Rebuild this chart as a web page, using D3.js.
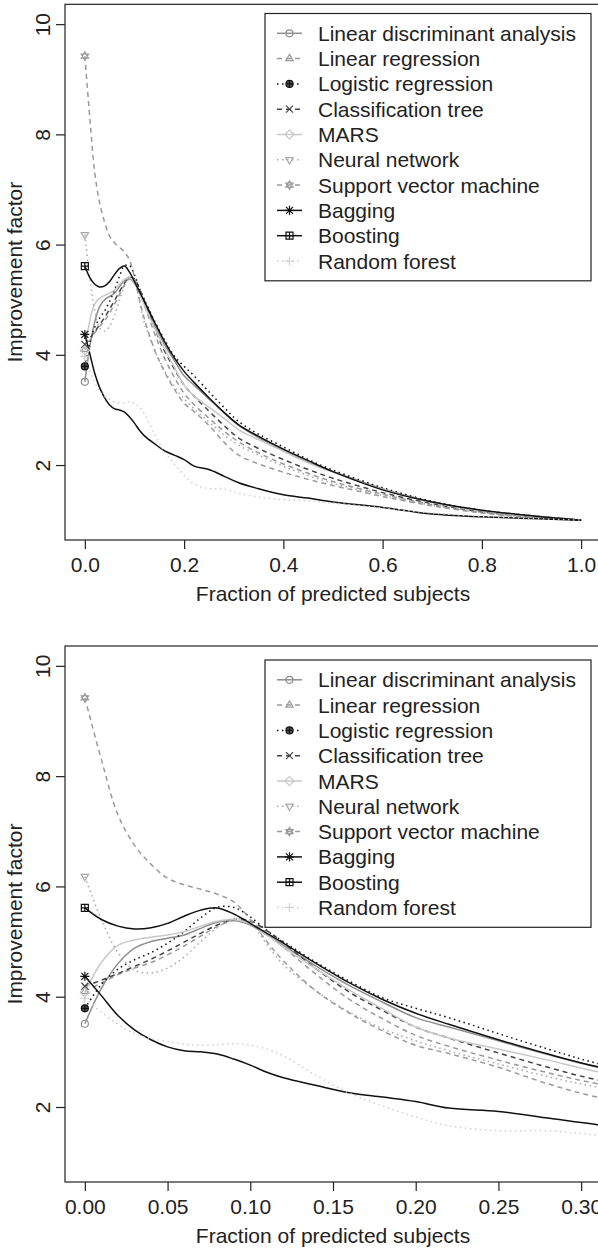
<!DOCTYPE html>
<html>
<head>
<meta charset="utf-8">
<script src="https://cdn.jsdelivr.net/npm/d3@7"></script>
<style>
body { margin: 0; background: #fff; }
svg text { font-family: "Liberation Sans", Arial, sans-serif; fill: #222; }
</style>
</head>
<body>
<svg id="chart" width="598" height="1248"></svg>
<script>
// fraction of predicted subjects (shared x grid)
const fractions = [0, 0.01, 0.02, 0.03, 0.04, 0.05, 0.06, 0.07, 0.08, 0.09, 0.10, 0.11, 0.12, 0.14, 0.16, 0.18, 0.20, 0.22, 0.25, 0.28, 0.31, 0.35, 0.40, 0.45, 0.50, 0.60, 0.70, 0.80, 0.90, 1.00];

// improvement factor per method
const ldaVals      = [3.51, 4.15, 4.60, 4.88, 5.00, 5.06, 5.12, 5.24, 5.35, 5.38, 5.30, 5.12, 4.93, 4.55, 4.20, 3.90, 3.62, 3.45, 3.20, 2.95, 2.72, 2.50, 2.27, 2.05, 1.88, 1.57, 1.33, 1.17, 1.08, 1.00];
const linRegVals   = [4.10, 4.25, 4.40, 4.52, 4.62, 4.76, 4.92, 5.10, 5.27, 5.38, 5.36, 5.15, 4.90, 4.40, 3.95, 3.60, 3.30, 3.10, 2.85, 2.62, 2.42, 2.22, 2.02, 1.85, 1.70, 1.47, 1.28, 1.14, 1.06, 1.00];
const logRegVals   = [3.79, 4.22, 4.50, 4.67, 4.80, 4.97, 5.18, 5.43, 5.62, 5.62, 5.45, 5.20, 5.00, 4.62, 4.28, 3.98, 3.79, 3.62, 3.33, 3.05, 2.79, 2.56, 2.33, 2.10, 1.91, 1.59, 1.34, 1.18, 1.08, 1.00];
const treeVals     = [4.19, 4.30, 4.42, 4.55, 4.68, 4.83, 4.99, 5.15, 5.30, 5.40, 5.38, 5.20, 4.98, 4.50, 4.08, 3.75, 3.45, 3.25, 2.98, 2.72, 2.49, 2.30, 2.10, 1.92, 1.76, 1.50, 1.30, 1.15, 1.06, 1.00];
const marsVals     = [4.08, 4.62, 4.93, 5.03, 5.08, 5.12, 5.18, 5.28, 5.37, 5.40, 5.32, 5.12, 4.90, 4.50, 4.12, 3.78, 3.45, 3.25, 3.05, 2.85, 2.64, 2.46, 2.25, 2.04, 1.87, 1.56, 1.32, 1.17, 1.07, 1.00];
const nnVals       = [6.18, 5.40, 4.80, 4.48, 4.43, 4.52, 4.72, 5.00, 5.25, 5.42, 5.35, 4.95, 4.58, 4.10, 3.72, 3.42, 3.20, 3.02, 2.78, 2.55, 2.36, 2.18, 1.98, 1.81, 1.67, 1.45, 1.27, 1.14, 1.05, 1.00];
const svmVals      = [9.42, 8.30, 7.30, 6.75, 6.40, 6.15, 6.03, 5.95, 5.86, 5.72, 5.40, 5.00, 4.65, 4.10, 3.70, 3.38, 3.12, 2.97, 2.72, 2.42, 2.18, 2.02, 1.87, 1.74, 1.63, 1.43, 1.26, 1.13, 1.05, 1.00];
const baggingVals  = [4.37, 4.02, 3.66, 3.40, 3.22, 3.09, 3.02, 3.00, 2.96, 2.87, 2.76, 2.63, 2.53, 2.39, 2.26, 2.18, 2.10, 1.98, 1.92, 1.80, 1.68, 1.57, 1.46, 1.40, 1.33, 1.23, 1.11, 1.06, 1.03, 1.00];
const boostingVals = [5.61, 5.40, 5.28, 5.23, 5.25, 5.33, 5.46, 5.57, 5.61, 5.50, 5.33, 5.15, 4.97, 4.60, 4.25, 3.95, 3.70, 3.50, 3.22, 2.96, 2.73, 2.52, 2.29, 2.08, 1.88, 1.55, 1.33, 1.18, 1.08, 1.00];
const forestVals   = [3.97, 3.72, 3.50, 3.33, 3.24, 3.19, 3.14, 3.12, 3.13, 3.15, 3.12, 3.05, 2.93, 2.57, 2.25, 2.02, 1.82, 1.66, 1.57, 1.57, 1.49, 1.42, 1.37, 1.35, 1.31, 1.22, 1.13, 1.07, 1.03, 1.00];

const methodNames = ["Linear discriminant analysis", "Linear regression", "Logistic regression", "Classification tree", "MARS", "Neural network", "Support vector machine", "Bagging", "Boosting", "Random forest"];
const yTicks = [2, 4, 6, 8, 10];
const xTicksFull = [0, 0.2, 0.4, 0.6, 0.8, 1.0];
const xTicksZoom = [0, 0.05, 0.10, 0.15, 0.20, 0.25, 0.30];

// line styles (R-like lty / grey levels / pch)
const styles = [
  {color: "#8e8e8e", dash: null,      mark: "circle"},
  {color: "#9a9a9a", dash: "5,4",     mark: "triUp"},
  {color: "#111",    dash: "1.5,3.5", mark: "circlePlus"},
  {color: "#444",    dash: "5,4",     mark: "cross"},
  {color: "#c8c8c8", dash: null,      mark: "diamond"},
  {color: "#a8a8a8", dash: "1.5,3.5", mark: "triDown"},
  {color: "#9a9a9a", dash: "5,4",     mark: "star"},
  {color: "#111",    dash: null,      mark: "asterisk"},
  {color: "#111",    dash: null,      mark: "squarePlus"},
  {color: "#cfcfcf", dash: "1.5,3.5", mark: "plus"}
];

const allVals = [ldaVals, linRegVals, logRegVals, treeVals, marsVals, nnVals, svmVals, baggingVals, boostingVals, forestVals];
const series = methodNames.map((name, i) => ({
  name: name,
  style: styles[i],
  points: fractions.map((f, j) => [f, allVals[i][j]])
}));

const svg = d3.select('#chart');
const boxLeft = 65, boxRight = 601;
const fontSize = 21;

function markerPath(type, r) {
  const p = d3.path();
  if (type == "triUp" || type == "star") {
    p.moveTo(0, -r * 1.2); p.lineTo(r * 1.05, r * 0.6); p.lineTo(-r * 1.05, r * 0.6); p.closePath();
  }
  if (type == "triDown" || type == "star") {
    p.moveTo(0, r * 1.2); p.lineTo(r * 1.05, -r * 0.6); p.lineTo(-r * 1.05, -r * 0.6); p.closePath();
  }
  if (type == "diamond") {
    p.moveTo(0, -r * 1.3); p.lineTo(r * 1.3, 0); p.lineTo(0, r * 1.3); p.lineTo(-r * 1.3, 0); p.closePath();
  }
  if (type == "cross" || type == "asterisk") {
    p.moveTo(-r, -r); p.lineTo(r, r); p.moveTo(-r, r); p.lineTo(r, -r);
  }
  if (type == "plus" || type == "asterisk" || type == "circlePlus" || type == "squarePlus") {
    const s = type == "plus" || type == "asterisk" ? r * 1.3 : r;
    p.moveTo(-s, 0); p.lineTo(s, 0); p.moveTo(0, -s); p.lineTo(0, s);
  }
  if (type == "squarePlus") {
    p.rect(-r, -r, 2 * r, 2 * r);
  }
  return p.toString();
}

function drawMarker(g, type, cx, cy, color) {
  const r = 3.5;
  const m = g.append("g").attr("transform", "translate(" + cx + "," + cy + ")");
  if (type == "circle" || type == "circlePlus") {
    m.append("circle").attr("r", r).attr("fill", type == "circlePlus" ? "#555" : "none")
      .attr("stroke", color).attr("stroke-width", 1.2);
  }
  m.append("path").attr("d", markerPath(type, r)).attr("fill", "none")
    .attr("stroke", color).attr("stroke-width", 1.2);
}

const panels = [
  {top: 4.3, bottom: 540, xmax: 1.0, ticks: xTicksFull, fmt: d3.format(".1f"), legendTop: 13.5},
  {top: 646, bottom: 1182, xmax: 0.3, ticks: xTicksZoom, fmt: d3.format(".2f"), legendTop: 660}
];

panels.forEach((pn, k) => {
  const x = d3.scaleLinear().domain([-0.04 * pn.xmax, 1.04 * pn.xmax]).range([boxLeft, boxRight]);
  const y = d3.scaleLinear().domain([0.64, 10.36]).range([pn.bottom, pn.top]);

  const g = svg.append("g");

  g.append("clipPath").attr("id", "clip" + k)
    .append("rect").attr("x", boxLeft).attr("y", pn.top)
    .attr("width", boxRight - boxLeft).attr("height", pn.bottom - pn.top);

  const line = d3.line()
    .x(d => x(d[0]))
    .y(d => y(d[1]))
    .curve(d3.curveCatmullRom.alpha(0.5));

  const plot = g.append("g").attr("clip-path", "url(#clip" + k + ")");
  series.forEach(s => {
    plot.append("path")
      .attr("d", line(s.points))
      .attr("fill", "none")
      .attr("stroke", s.style.color)
      .attr("stroke-width", 1.5)
      .attr("stroke-dasharray", s.style.dash);
  });
  series.forEach(s => {
    drawMarker(plot, s.style.mark, x(s.points[0][0]), y(s.points[0][1]), s.style.color);
  });

  // box
  g.append("rect")
    .attr("x", boxLeft).attr("y", pn.top)
    .attr("width", boxRight - boxLeft).attr("height", pn.bottom - pn.top)
    .attr("fill", "none").attr("stroke", "#222").attr("stroke-width", 1.2);

  // x axis
  const xAxis = g.append("g")
    .attr("transform", "translate(0," + pn.bottom + ")")
    .call(d3.axisBottom(x).tickValues(pn.ticks).tickSize(9).tickPadding(8).tickFormat(pn.fmt));
  xAxis.select(".domain").remove();
  xAxis.selectAll("line").attr("stroke", "#222").attr("stroke-width", 1.2);
  xAxis.selectAll("text").attr("font-size", fontSize).attr("fill", "#222");

  // y axis
  const yAxis = g.append("g")
    .attr("transform", "translate(" + boxLeft + ",0)")
    .call(d3.axisLeft(y).tickValues(yTicks).tickSize(9));
  yAxis.select(".domain").remove();
  yAxis.selectAll("line").attr("stroke", "#222").attr("stroke-width", 1.2);
  yAxis.selectAll("text")
    .attr("x", null).attr("dy", null)
    .attr("text-anchor", "middle")
    .attr("dominant-baseline", "central")
    .attr("transform", "translate(-23,0) rotate(-90)")
    .attr("font-size", fontSize).attr("fill", "#222");

  // titles
  g.append("text")
    .attr("x", (boxLeft + boxRight) / 2).attr("y", pn.bottom + 53)
    .attr("text-anchor", "middle").attr("dominant-baseline", "central")
    .attr("font-size", fontSize)
    .text("Fraction of predicted subjects");
  g.append("text")
    .attr("transform", "translate(14," + ((pn.top + pn.bottom) / 2) + ") rotate(-90)")
    .attr("text-anchor", "middle").attr("dominant-baseline", "central")
    .attr("font-size", fontSize)
    .text("Improvement factor");

  // legend
  const rowH = 25.3;
  const leg = g.append("g");
  leg.append("rect")
    .attr("x", 265).attr("y", pn.legendTop)
    .attr("width", 591 - 265).attr("height", rowH * 9 + 2 * 19.8)
    .attr("fill", "#fff").attr("stroke", "#222").attr("stroke-width", 1.2);
  series.forEach((s, i) => {
    const cy = pn.legendTop + 19.8 + i * rowH;
    leg.append("line")
      .attr("x1", 277).attr("x2", 302).attr("y1", cy).attr("y2", cy)
      .attr("stroke", s.style.color).attr("stroke-width", 1.5)
      .attr("stroke-dasharray", s.style.dash);
    drawMarker(leg, s.style.mark, 289.5, cy, s.style.color);
    leg.append("text")
      .attr("x", 318).attr("y", cy)
      .attr("dominant-baseline", "central")
      .attr("font-size", fontSize)
      .text(s.name);
  });
});
</script>
</body>
</html>
